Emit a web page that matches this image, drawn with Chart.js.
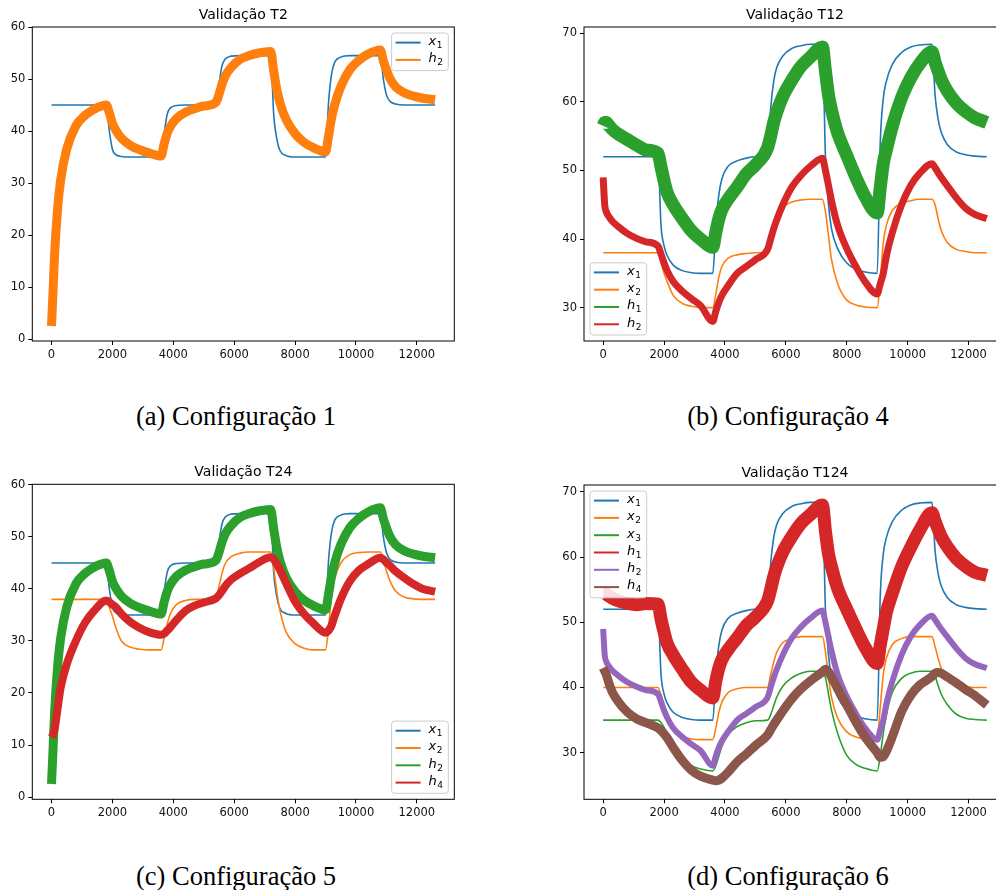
<!DOCTYPE html>
<html>
<head>
<meta charset="utf-8">
<script src="https://cdn.jsdelivr.net/npm/chart.js@4.4.1/dist/chart.umd.min.js"></script>
<style>
  body { margin: 0; width: 996px; height: 890px; overflow: hidden; background: #fff; position: relative; }
  canvas { position: absolute; }
  .cap { position: absolute; width: 400px; text-align: center; font-family: "Liberation Serif", serif; font-size: 26.5px; color: #000; line-height: 30px; }
</style>
</head>
<body>
<canvas id="c1" width="470" height="370" style="left:0px;top:0px"></canvas>
<canvas id="c4" width="470" height="370" style="left:540px;top:0px"></canvas>
<canvas id="c5" width="470" height="370" style="left:0px;top:460px"></canvas>
<canvas id="c6" width="470" height="370" style="left:540px;top:460px"></canvas>
<div class="cap" style="left:36px;top:401px">(a) Configuração 1</div>
<div class="cap" style="left:588px;top:401px">(b) Configuração 4</div>
<div class="cap" style="left:36px;top:861px">(c) Configuração 5</div>
<div class="cap" style="left:588px;top:861px">(d) Configuração 6</div>
<script>
// tempo (s)
const t = [0, 50, 100, 200, 300, 500, 800, 1100, 1400, 1800,
  1900, 2000, 2100, 2300, 2600, 2900, 3200, 3600,
  3700, 3800, 3900, 4100, 4400, 4700, 5000, 5400,
  5500, 5600, 5700, 5900, 6200, 6500, 6800, 7200,
  7300, 7400, 7500, 7700, 8000, 8300, 8600, 9000,
  9100, 9200, 9300, 9500, 9800, 10100, 10400, 10800,
  10900, 11000, 11100, 11300, 11600, 11900, 12200, 12600];

const xTicks = [0, 2000, 4000, 6000, 8000, 10000, 12000];
const yTicks60 = [0, 10, 20, 30, 40, 50, 60];
const yTicks70 = [30, 40, 50, 60, 70];

// Configuração 1 e 5
const x1_c1 = [45, 45, 45, 45, 45, 45, 45, 45, 45, 45,
  40, 36.5, 35.5, 35.1, 35, 35, 35, 35,
  39.5, 43.2, 44.4, 44.9, 45, 45, 45, 45,
  49, 52.5, 53.8, 54.4, 54.5, 54.5, 54.5, 54.5,
  43, 38.5, 36.3, 35.3, 35, 35, 35, 35,
  45.5, 51, 53.2, 54.2, 54.5, 54.5, 54.5, 54.5,
  50, 47, 45.8, 45.2, 45, 45, 45, 45];
const h2_c1 = [2.5, 9, 16, 25, 30.5, 36.5, 41, 43, 44.2, 45,
  43.5, 41.5, 40.3, 38.6, 37.2, 36.4, 35.8, 35.2,
  37.5, 39.5, 40.8, 42.4, 43.6, 44.3, 44.8, 45.5,
  47, 49, 50.5, 52.2, 53.8, 54.5, 55, 55.3,
  51.5, 48, 45.5, 42.3, 39.5, 37.8, 36.8, 36,
  39, 42.5, 45, 48.5, 51.8, 53.6, 54.8, 55.6,
  53.5, 51.8, 50.3, 48.5, 47.3, 46.7, 46.3, 46];
const x2_c5 = [38, 38, 38, 38, 38, 38, 38, 38, 38, 38,
  36.5, 34.8, 32.8, 30, 28.8, 28.4, 28.3, 28.3,
  30.5, 33.2, 35.2, 37, 37.8, 38, 38, 38,
  40.5, 43, 44.8, 46.2, 46.9, 47.1, 47.1, 47.1,
  44, 39.5, 36, 31.8, 29.5, 28.6, 28.3, 28.3,
  32.5, 39, 42, 45, 46.6, 47, 47.1, 47.1,
  45.5, 43.5, 41.8, 39.6, 38.4, 38.1, 38, 38];
const h4_c5 = [11.5, 12, 13, 17, 21, 25.5, 30, 33.5, 35.8, 37.8,
  37.5, 37, 36.6, 35.2, 33.6, 32.5, 31.7, 31.2,
  31.4, 32, 32.6, 34, 35.8, 36.8, 37.4, 38.2,
  38.8, 39.6, 40.5, 41.8, 43, 44, 45.1, 46.1,
  45.7, 44.8, 43.7, 41.2, 37.6, 35.2, 33.4, 31.6,
  32, 33, 34.8, 38, 41.5, 43.6, 44.8, 46,
  45.7, 45.1, 44.6, 43.4, 42.1, 40.9, 40, 39.5];

// Configuração 4 e 6
const x1_c4 = [52, 52, 52, 52, 52, 52, 52, 52, 52, 52,
  42, 39, 37.6, 36.2, 35.4, 35.1, 35, 35,
  42, 46.5, 48.8, 50.6, 51.4, 51.8, 52, 52,
  59, 63, 65, 66.7, 67.8, 68.2, 68.4, 68.4,
  52, 45, 41.5, 38.6, 36.5, 35.6, 35.2, 35,
  54, 60.5, 63, 65.5, 67.2, 68, 68.3, 68.4,
  61, 57.5, 55.6, 53.8, 52.7, 52.3, 52.1, 52];
const x2_c4 = [38, 38, 38, 38, 38, 38, 38, 38, 38, 38,
  36.5, 35, 33.8, 31.8, 30.6, 30.2, 30, 30,
  32, 34.5, 36, 37.2, 37.7, 37.9, 38, 38,
  39, 41, 42.8, 44.6, 45.4, 45.7, 45.8, 45.8,
  44, 40.5, 37, 33.5, 31.1, 30.4, 30.1, 30,
  34, 39.5, 42, 44.2, 45.2, 45.6, 45.8, 45.8,
  45, 43, 41.3, 39.5, 38.5, 38.2, 38, 38];
const h1_c4 = [56.5, 57, 57, 56.5, 56, 55.3, 54.5, 53.7, 53, 52.5,
  50.5, 48.5, 46.8, 45, 43, 41.2, 40, 38.8,
  41, 43, 44.3, 45.8, 47.6, 49.5, 50.8, 53.3,
  55, 57, 58.5, 60.8, 63.2, 65.2, 66.5, 68,
  64.5, 61, 58.8, 55.5, 52.2, 49, 46.2, 43.8,
  47.5, 51, 53, 56.5, 60.6, 63.5, 65.6, 67.3,
  65.8, 64.5, 63.3, 61.6, 59.8, 58.6, 57.7, 57];
const h2_c4 = [49, 45, 44, 43.2, 42.6, 41.8, 40.8, 40.1, 39.6, 39,
  37.8, 36.5, 35.4, 33.8, 32.4, 31.3, 30.3, 28,
  29.5, 30.8, 31.8, 33.2, 35, 36, 37, 38.5,
  40, 41.5, 42.8, 45, 47.6, 49.3, 50.6, 51.8,
  50, 47.8, 45.6, 42, 38.6, 36, 33.8, 32,
  33.5, 35, 37.5, 41, 45, 47.8, 49.6, 51,
  50.4, 49.7, 49, 47.8, 46, 44.5, 43.6, 43];
const x2_c6 = [40, 40, 40, 40, 40, 40, 40, 40, 40, 40,
  38.8, 37.3, 35.6, 33.6, 32.5, 32.1, 32, 32,
  33.8, 36.2, 37.8, 39.2, 39.8, 40, 40, 40,
  42, 43.9, 45.4, 46.9, 47.5, 47.8, 47.8, 47.8,
  45.5, 41.5, 38.5, 35.3, 33.2, 32.4, 32.1, 32,
  37, 42, 44.5, 46.6, 47.5, 47.8, 47.8, 47.8,
  46.3, 44.5, 43, 41.2, 40.3, 40.1, 40, 40];
const x3_c6 = [35, 35, 35, 35, 35, 35, 35, 35, 35, 35,
  34.6, 33.9, 32.8, 30.8, 28.9, 28, 27.5, 27.2,
  28, 29.5, 31, 32.8, 34, 34.6, 34.9, 35,
  35.8, 37.2, 38.5, 40.2, 41.5, 42.2, 42.5, 42.5,
  41.5, 39, 36.5, 33, 29.6, 28.2, 27.6, 27.2,
  29.5, 33, 35.8, 39.3, 41.4, 42.2, 42.5, 42.5,
  41.8, 40.3, 39, 37.4, 35.9, 35.3, 35.1, 35];
const h1_c6 = [54.5, 54.5, 54.3, 54, 53.7, 53.3, 52.9, 52.7, 52.9, 52.8,
  50.5, 48.5, 46.8, 45, 42.8, 40.8, 39.6, 38.4,
  41, 43, 44.3, 45.8, 47.6, 49.5, 50.8, 53.3,
  55, 57, 58.5, 60.8, 63.2, 65.2, 66.5, 68,
  64, 60.5, 58.5, 55.2, 52, 49, 46.2, 43.7,
  46.5, 49, 51.5, 54.5, 58.5, 61.5, 64.2, 66.8,
  65.5, 64.3, 63.2, 61.6, 59.8, 58.6, 57.7, 57.2];
const h4_c6 = [43, 42.5, 42, 40.5, 39.3, 37.8, 36.2, 35.2, 34.6, 33.8,
  33.4, 32.9, 32.3, 30.8, 28.8, 27.3, 26.4, 25.8,
  25.7, 25.8, 26.1, 27, 28.6, 29.8, 31.1, 32.7,
  33.5, 34.3, 35, 36.4, 38.3, 39.8, 41, 42.4,
  42.8, 42.4, 41.6, 39.8, 37.3, 34.7, 32.4, 30,
  29.3, 29.4, 30.2, 32.5, 36.3, 38.8, 40.4, 41.7,
  42.2, 42.3, 42.2, 41.6, 40.7, 39.7, 38.8, 37.3];

const cores = ['#1f77b4', '#ff7f0e', '#2ca02c', '#d62728', '#9467bd', '#8c564b'];
const fonte = '"DejaVu Sans", sans-serif';

function pts(v) {
  return t.map((x, i) => ({ x: x, y: v[i] }));
}

function legenda(ctx, area, canto, itens) {
  const n = itens.length, w = 56.7, h = n * 17.3 + 3;
  const x0 = canto.indexOf('right') >= 0 ? area.right - 6 - w : area.left + 6;
  const y0 = canto.indexOf('upper') >= 0 ? area.top + 6 : area.bottom - 6 - h;
  ctx.save();
  ctx.beginPath();
  ctx.roundRect(x0, y0, w, h, 3);
  ctx.fillStyle = 'rgba(255,255,255,0.85)';
  ctx.fill();
  ctx.strokeStyle = '#cccccc';
  ctx.lineWidth = 1;
  ctx.stroke();
  itens.forEach((it, i) => {
    const y = y0 + 9.6 + i * 17.3;
    ctx.beginPath();
    ctx.moveTo(x0 + 4, y);
    ctx.lineTo(x0 + 29, y);
    ctx.strokeStyle = it.cor;
    ctx.lineWidth = 2;
    ctx.stroke();
    const partes = it.nome.split('_');
    ctx.fillStyle = '#000';
    ctx.textBaseline = 'middle';
    ctx.textAlign = 'left';
    ctx.font = 'italic 13px ' + fonte;
    ctx.fillText(partes[0], x0 + 37, y - 1);
    const bw = ctx.measureText(partes[0]).width;
    ctx.font = '9px ' + fonte;
    ctx.fillText(partes[1], x0 + 37 + bw + 0.5, y + 3);
  });
  ctx.restore();
}

function grafico(id, p) {
  const decor = {
    id: 'decor' + id,
    afterDraw(chart) {
      const a = chart.chartArea, ctx = chart.ctx;
      ctx.save();
      ctx.strokeStyle = '#000';
      ctx.lineWidth = 1;
      ctx.strokeRect(a.left, a.top, a.right - a.left, a.bottom - a.top);
      ctx.fillStyle = '#000';
      ctx.font = '14px ' + fonte;
      ctx.textAlign = 'center';
      ctx.textBaseline = 'middle';
      ctx.fillText(p.titulo, (a.left + a.right) / 2, a.top - 12);
      ctx.restore();
      legenda(ctx, a, p.canto, p.series.map(s => ({ nome: s.nome, cor: cores[s.cor] })));
    }
  };
  const n = p.series.length;
  const tickFont = { family: fonte, size: 11.5 };
  return new Chart(document.getElementById(id), {
    type: 'line',
    data: {
      datasets: p.series.map((s, i) => ({
        label: s.nome,
        data: pts(s.v),
        borderColor: cores[s.cor],
        backgroundColor: cores[s.cor],
        borderWidth: s.w,
        borderJoinStyle: 'round',
        borderCapStyle: 'butt',
        pointRadius: 0,
        cubicInterpolationMode: 'monotone',
        fill: false,
        order: n - i
      }))
    },
    options: {
      responsive: false,
      animation: false,
      devicePixelRatio: 1,
      layout: { padding: p.pad },
      plugins: { legend: { display: false }, tooltip: { enabled: false }, title: { display: false } },
      scales: {
        x: {
          type: 'linear', min: -630, max: 13230,
          afterBuildTicks: s => { s.ticks = xTicks.map(v => ({ value: v })); },
          afterFit: s => { s.height = 26; },
          grid: { drawOnChartArea: false, drawTicks: true, tickLength: 4, color: '#000' },
          border: { display: false },
          ticks: { color: '#111', font: tickFont, padding: 3, maxRotation: 0, autoSkip: false, callback: v => String(v) }
        },
        y: {
          type: 'linear', min: p.yMin, max: p.yMax,
          afterBuildTicks: s => { s.ticks = p.yTicks.map(v => ({ value: v })); },
          afterFit: s => { s.width = p.yW; },
          grid: { drawOnChartArea: false, drawTicks: true, tickLength: 4, color: '#000' },
          border: { display: false },
          ticks: { color: '#111', font: tickFont, padding: 3, autoSkip: false, callback: v => String(v) }
        }
      }
    },
    plugins: [decor]
  });
}

grafico('c1', {
  titulo: 'Validação T2', yMin: -0.38, yMax: 60, yTicks: yTicks60, yW: 32.3,
  pad: { left: 0, top: 27, right: 15.7, bottom: 3 }, canto: 'upper right',
  series: [
    { nome: 'x_1', v: x1_c1, cor: 0, w: 1.6 },
    { nome: 'h_2', v: h2_c1, cor: 1, w: 9 }
  ]
});

grafico('c4', {
  titulo: 'Validação T12', yMin: 25.14, yMax: 70.92, yTicks: yTicks70, yW: 44,
  pad: { left: 0, top: 27, right: 4, bottom: 3 }, canto: 'lower left',
  series: [
    { nome: 'x_1', v: x1_c4, cor: 0, w: 1.6 },
    { nome: 'x_2', v: x2_c4, cor: 1, w: 1.6 },
    { nome: 'h_1', v: h1_c4, cor: 2, w: 13 },
    { nome: 'h_2', v: h2_c4, cor: 3, w: 7 }
  ]
});

grafico('c5', {
  titulo: 'Validação T24', yMin: -0.44, yMax: 60.13, yTicks: yTicks60, yW: 32.3,
  pad: { left: 0, top: 24.3, right: 15.7, bottom: 4.7 }, canto: 'lower right',
  series: [
    { nome: 'x_1', v: x1_c1, cor: 0, w: 1.6 },
    { nome: 'x_2', v: x2_c5, cor: 1, w: 1.6 },
    { nome: 'h_2', v: h2_c1, cor: 2, w: 9 },
    { nome: 'h_4', v: h4_c5, cor: 3, w: 8 }
  ]
});

grafico('c6', {
  titulo: 'Validação T124', yMin: 22.85, yMax: 71.07, yTicks: yTicks70, yW: 44,
  pad: { left: 0, top: 25, right: 4, bottom: 4.7 }, canto: 'upper left',
  series: [
    { nome: 'x_1', v: x1_c4, cor: 0, w: 1.6 },
    { nome: 'x_2', v: x2_c6, cor: 1, w: 1.6 },
    { nome: 'x_3', v: x3_c6, cor: 2, w: 1.6 },
    { nome: 'h_1', v: h1_c6, cor: 3, w: 13 },
    { nome: 'h_2', v: h2_c4, cor: 4, w: 6 },
    { nome: 'h_4', v: h4_c6, cor: 5, w: 9 }
  ]
});
</script>
</body>
</html>
